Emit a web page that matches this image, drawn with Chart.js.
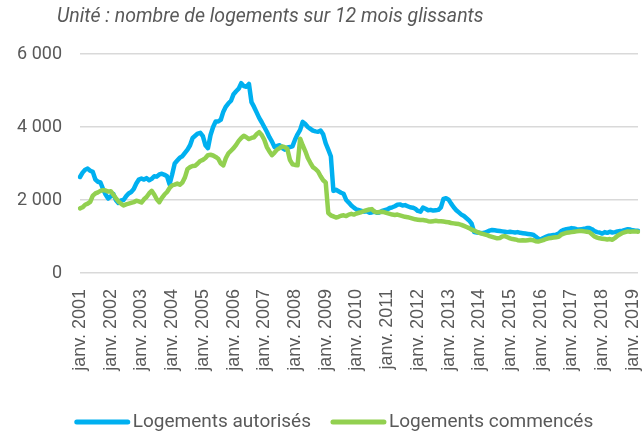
<!DOCTYPE html>
<html>
<head>
<meta charset="utf-8">
<script src="https://cdn.jsdelivr.net/npm/chart.js@4/dist/chart.umd.min.js"></script>
<style>
  body { margin: 0; background: #fff; }
  #wrap { width: 644px; height: 434px; }
</style>
</head>
<body>
<div id="wrap"><canvas id="chart" width="644" height="434"></canvas></div>
<script>
const titleText = "Unité : nombre de logements sur 12 mois glissants";
const seriesNames = ["Logements autorisés", "Logements commencés"];
const monthNames = ["janv.", "févr.", "mars", "avr.", "mai", "juin", "juil.", "août", "sept.", "oct.", "nov.", "déc."];
const yTicks = [0, 2000, 4000, 6000];

// janv. 2001 -> mars 2019, one value a month
const autorises = [
  2630, 2750, 2830, 2860, 2800, 2770, 2560, 2500, 2480, 2300, 2150, 2040,
  2100, 2170, 2000, 1920, 1990, 2000, 2100, 2180, 2220, 2300, 2450, 2560,
  2590, 2560, 2600, 2540, 2580, 2650, 2640, 2700, 2720, 2690, 2650, 2430,
  2700, 3000, 3080, 3160, 3200, 3290, 3380, 3500, 3700, 3760, 3820, 3840,
  3750, 3500, 3420, 3780, 4000, 4150, 4150, 4200, 4420, 4560, 4650, 4720,
  4900, 4980, 5050, 5200, 5120, 5100, 5180, 4680, 4550, 4400, 4250, 4130,
  4000, 3870, 3720, 3600, 3450, 3480, 3500, 3420, 3380, 3440, 3450, 3470,
  3650, 3800, 3920, 4140, 4080, 4000, 3950, 3900, 3880, 3870, 3900, 3800,
  3550, 3380, 3200, 2250, 2280, 2240, 2200, 2170, 2000, 1930, 1850, 1790,
  1740, 1720, 1700, 1680, 1700, 1650, 1660, 1680, 1650, 1660, 1700, 1720,
  1740, 1780, 1800, 1830, 1870, 1880, 1850, 1860, 1830, 1800, 1790, 1760,
  1700, 1680, 1790, 1760, 1720, 1730, 1710, 1720, 1730, 1800, 2030, 2050,
  2010, 1900, 1800, 1720, 1660, 1600, 1560, 1500, 1440, 1350, 1120, 1110,
  1100, 1090, 1100, 1130, 1160, 1180, 1170, 1160, 1150, 1140, 1130, 1120,
  1130, 1120, 1110, 1120, 1100, 1090, 1080, 1070, 1060, 1050, 1000, 940,
  920, 960, 990, 1020, 1030, 1040, 1050, 1080, 1150, 1180, 1200, 1210,
  1230, 1220, 1200, 1190, 1200, 1210, 1230, 1230, 1200, 1150, 1120, 1110,
  1080, 1120, 1100, 1130, 1110, 1120, 1140, 1150, 1160, 1180, 1200, 1190,
  1170, 1160, 1160
];
const commences = [
  1770, 1800, 1870, 1900, 1950, 2120, 2180, 2210, 2250, 2270, 2260, 2230,
  2240, 2150, 2050, 1960, 1900, 1850, 1880, 1900, 1920, 1940, 1980, 1960,
  1930, 2020, 2080, 2180, 2250, 2150, 2020, 1940, 2060, 2150, 2220, 2330,
  2400, 2420, 2450, 2420, 2480, 2620, 2850, 2900, 2930, 2940, 3000, 3070,
  3100, 3150, 3230, 3240, 3220, 3180, 3130, 3000, 2950, 3150, 3280, 3350,
  3420, 3510, 3620, 3700, 3760, 3720, 3670, 3700, 3720, 3800, 3860, 3780,
  3650, 3450, 3330, 3230, 3300, 3380, 3420, 3470, 3450, 3400, 3100, 2980,
  2960, 2950, 3680, 3500, 3340, 3150, 3020, 2900, 2850, 2780, 2650, 2540,
  2480, 1640, 1580, 1550, 1520, 1540, 1570, 1580, 1560, 1600, 1620, 1600,
  1630, 1650, 1670, 1700, 1720, 1740, 1750, 1680, 1660, 1670, 1680, 1660,
  1640, 1620, 1600, 1590, 1600, 1580, 1560, 1540, 1530, 1510, 1490, 1470,
  1460, 1450, 1450, 1440, 1420, 1410, 1420, 1430, 1420, 1420, 1410, 1400,
  1390, 1370, 1360, 1350, 1340, 1320, 1290, 1260, 1230, 1190, 1160, 1130,
  1100, 1080, 1060, 1040, 1010, 990, 970, 950, 960, 1000, 1010, 980,
  950, 930, 920, 900, 890, 900, 890, 900, 910, 900, 870, 860,
  880, 900, 930, 950, 960, 970, 980, 990, 1050, 1080, 1100, 1110,
  1120, 1130, 1140, 1150, 1150, 1140, 1130, 1120, 1060, 1000, 970, 950,
  940, 930, 920, 930, 910, 960, 1020, 1060, 1100, 1120, 1140, 1130,
  1140, 1140, 1130
];

// month labels "janv. 2001" ...
const months = [];
for (let i = 0; i < autorises.length; i++) {
  months.push(monthNames[i % 12] + " " + (2001 + Math.floor(i / 12)));
}

const grey = "#595959";
const colors = ["#00b0f0", "#92d050"];

// title + legend drawn by hand so they sit where the original has them
const decorations = {
  id: "decorations",
  afterDraw(chart) {
    const { ctx } = chart;
    ctx.save();
    ctx.fillStyle = grey;
    ctx.font = "italic 19.5px Roboto";
    ctx.textAlign = "left";
    ctx.textBaseline = "middle";
    ctx.fillText(titleText, 57, 17);

    // legend
    ctx.font = "19px Roboto";
    const lineW = 55, gap = 3, spacing = 20;
    const widths = seriesNames.map(n => ctx.measureText(n).width);
    const total = widths.reduce((a, w) => a + lineW + gap + w, 0) + spacing;
    let x = 334 - total / 2;
    const y = 422;
    seriesNames.forEach((name, i) => {
      ctx.strokeStyle = colors[i];
      ctx.lineWidth = 5;
      ctx.lineCap = "round";
      ctx.beginPath();
      ctx.moveTo(x + 2, y);
      ctx.lineTo(x + lineW - 2, y);
      ctx.stroke();
      ctx.fillStyle = grey;
      ctx.fillText(name, x + lineW + gap, y);
      x += lineW + gap + widths[i] + spacing;
    });
    ctx.restore();
  }
};

new Chart(document.getElementById("chart"), {
  type: "line",
  data: {
    labels: months,
    datasets: [
      { label: seriesNames[0], data: autorises, borderColor: colors[0], backgroundColor: colors[0], order: 2 },
      { label: seriesNames[1], data: commences, borderColor: colors[1], backgroundColor: colors[1], order: 1 }
    ]
  },
  options: {
    responsive: false,
    animation: false,
    devicePixelRatio: 1,
    layout: { padding: { top: 54, right: 6, left: 0, bottom: 0 } },
    elements: {
      point: { radius: 0 },
      line: { borderWidth: 4.5, tension: 0, borderJoinStyle: "round", borderCapStyle: "round" }
    },
    plugins: {
      legend: { display: false },
      tooltip: { enabled: false }
    },
    scales: {
      x: {
        type: "category",
        offset: false,
        grid: { display: false },
        border: { display: false },
        ticks: {
          autoSkip: false,
          maxRotation: 90,
          minRotation: 90,
          padding: 8,
          color: grey,
          font: { family: "Liberation Sans", size: 18 },
          callback(value, index) {
            return index % 12 === 0 ? months[index] : null;
          }
        },
        afterFit(scale) {
          scale.height = 161;
          scale.paddingLeft = 0;
          scale.paddingRight = 0;
        }
      },
      y: {
        min: 0,
        max: 6000,
        afterBuildTicks(scale) { scale.ticks = yTicks.map(v => ({ value: v })); },
        grid: { color: "#d9d9d9", lineWidth: 1.5, drawTicks: false },
        border: { display: false },
        ticks: {
          padding: 18,
          color: grey,
          font: { family: "Roboto", size: 18 },
          callback(v) { return v.toLocaleString("fr-FR").replace(/\s/g, " "); }
        },
        afterFit(scale) { scale.width = 80; }
      }
    }
  },
  plugins: [decorations]
});
</script>
</body>
</html>
